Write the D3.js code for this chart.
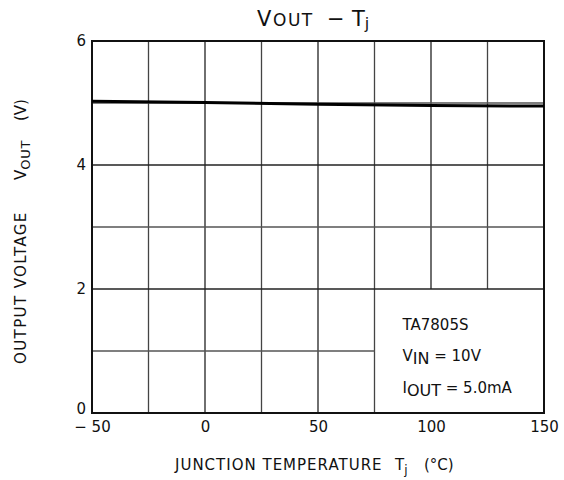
<!DOCTYPE html>
<html>
<head>
<meta charset="utf-8">
<script src="https://cdn.jsdelivr.net/npm/d3@7"></script>
<style>
  body { margin: 0; background: #fff; }
  text { font-family: "DejaVu Sans", "Open Sans", sans-serif; fill: #111; }
</style>
</head>
<body>
<div id="chart"></div>
<script>
// values
const tempC = [-50, 0, 50, 100, 150];
const vout = [5.03, 5.01, 4.98, 4.96, 4.95];

const xTicks = [-50, 0, 50, 100, 150];
const xTickLabels = ['\u2212 50', '0', '50', '100', '150'];
const yTicks = [0, 2, 4, 6];
const xGrid = [-25, 0, 25, 50, 75, 100, 125];
const yGrid = [1, 2, 3, 4, 5];

const notes = ['TA7805S', 'VIN', 'IOUT'];

const width = 564;
const height = 480;
const margin = { top: 41, right: 20, bottom: 67, left: 92 };
const font = '"DejaVu Sans", "Open Sans", sans-serif';

const svg = d3.select('#chart')
  .append('svg')
  .attr('width', width)
  .attr('height', height);

const x = d3.scaleLinear().domain([-50, 150]).range([margin.left, width - margin.right]);
const y = d3.scaleLinear().domain([0, 6]).range([height - margin.bottom, margin.top]);

const g = svg.append('g');

// the lower right cell block (75..150, 0..2) is left empty for the notes
const noteX = 75, noteY = 2;

// vertical grid
g.selectAll('line.vg')
  .data(xGrid)
  .join('line')
  .attr('class', 'vg')
  .attr('x1', d => x(d))
  .attr('x2', d => x(d))
  .attr('y1', y(6))
  .attr('y2', d => d > noteX ? y(noteY) : y(0))
  .attr('stroke', d => d % 50 === 0 ? '#222' : '#444')
  .attr('stroke-width', 1.3);

// horizontal grid
g.selectAll('line.hg')
  .data(yGrid)
  .join('line')
  .attr('class', 'hg')
  .attr('x1', x(-50))
  .attr('x2', d => d < noteY ? x(noteX) : x(150))
  .attr('y1', d => y(d))
  .attr('y2', d => y(d))
  .attr('stroke', d => d % 2 === 0 ? '#222' : '#555')
  .attr('stroke-width', 1.3);

// frame
g.append('rect')
  .attr('x', x(-50))
  .attr('y', y(6))
  .attr('width', x(150) - x(-50))
  .attr('height', y(0) - y(6))
  .attr('fill', 'none')
  .attr('stroke', '#111')
  .attr('stroke-width', 2);

// curve
const line = d3.line()
  .x((d, i) => x(tempC[i]))
  .y(d => y(d));

g.append('path')
  .datum(vout)
  .attr('d', line)
  .attr('fill', 'none')
  .attr('stroke', '#000')
  .attr('stroke-width', 3);

// axes (labels only, grid drawn above)
const xAxis = d3.axisBottom(x)
  .tickValues(xTicks)
  .tickSize(0)
  .tickPadding(8)
  .tickFormat((d, i) => xTickLabels[i]);

svg.append('g')
  .attr('transform', `translate(0,${y(0)})`)
  .call(xAxis)
  .call(s => s.select('.domain').remove())
  .selectAll('text')
  .attr('font-size', 15)
  .attr('font-family', font)
  .attr('fill', '#111');

const yAxis = d3.axisLeft(y)
  .tickValues(yTicks)
  .tickSize(0)
  .tickPadding(6)
  .tickFormat(d3.format('d'));

svg.append('g')
  .attr('transform', `translate(${x(-50)},0)`)
  .call(yAxis)
  .call(s => s.select('.domain').remove())
  .selectAll('text')
  .attr('font-size', 15)
  .attr('font-family', font)
  .attr('fill', '#111')
  .attr('dy', d => d === 0 ? '0' : '0.32em');

// title
const title = svg.append('text')
  .attr('y', 26)
  .attr('font-size', 21);
title.append('tspan').attr('x', 257).text('V');
title.append('tspan').attr('x', 273).attr('font-size', 17).attr('letter-spacing', 1.5).text('OUT');
title.append('tspan').attr('x', 327).text('\u2212');
title.append('tspan').attr('x', 352).text('T');
title.append('tspan').attr('font-size', 16).attr('dy', 3).text('j');

// x label
const xl = svg.append('text')
  .attr('y', 470)
  .attr('font-size', 15);
xl.append('tspan').attr('x', 175).attr('letter-spacing', 1).text('JUNCTION TEMPERATURE');
xl.append('tspan').attr('x', 395).text('T');
xl.append('tspan').attr('font-size', 12).attr('dy', 4).text('j');
xl.append('tspan').attr('x', 424).attr('dy', -4).text('(\u00b0C)');

// y label, drawn in a rotated frame; x here runs bottom to top
const yl = svg.append('g')
  .attr('transform', 'translate(26,0) rotate(-90)')
  .append('text')
  .attr('font-size', 15);
yl.append('tspan').attr('x', -364).attr('letter-spacing', 1.4).text('OUTPUT VOLTAGE');
yl.append('tspan').attr('x', -180).text('V');
yl.append('tspan').attr('font-size', 13).attr('letter-spacing', 0.8).attr('dy', 4).text('OUT');
yl.append('tspan').attr('x', -121).attr('dy', -4).text('(V)');

// notes
const nx = x(noteX) + 28;
svg.append('text')
  .attr('x', nx).attr('y', y(noteY) + 41)
  .attr('font-size', 15)
  .text(notes[0]);

const n2 = svg.append('text')
  .attr('x', nx).attr('y', y(noteY) + 72)
  .attr('font-size', 15);
n2.append('tspan').text('V');
n2.append('tspan').attr('dy', 3).attr('font-size', 16).text(notes[1].slice(1));
n2.append('tspan').attr('dy', -3).text(' = 10V');

const n3 = svg.append('text')
  .attr('x', nx).attr('y', y(noteY) + 104)
  .attr('font-size', 15);
n3.append('tspan').text('I');
n3.append('tspan').attr('dy', 3).attr('font-size', 16).text(notes[2].slice(1));
n3.append('tspan').attr('dy', -3).text(' = 5.0mA');
</script>
</body>
</html>
